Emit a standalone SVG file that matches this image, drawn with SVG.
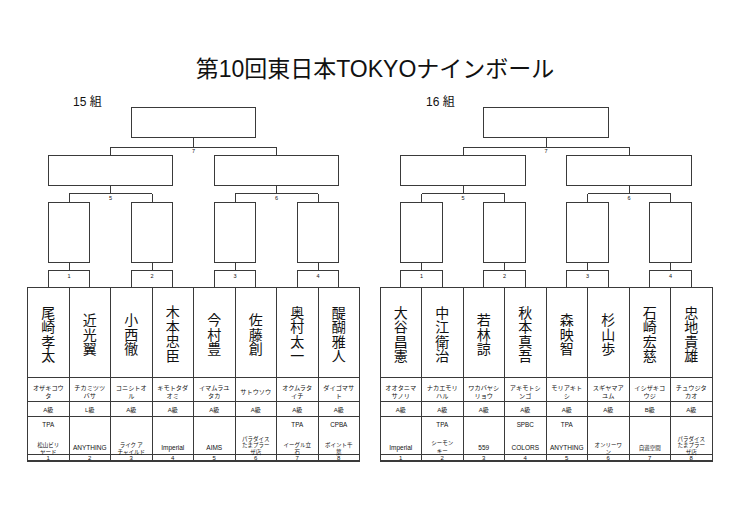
<svg xmlns="http://www.w3.org/2000/svg" width="740" height="523" viewBox="0 0 740 523">
<style>
.ln{fill:none;stroke:#3a3a3a;stroke-width:1;shape-rendering:crispEdges}
.bx{fill:#fff;stroke:#3a3a3a;stroke-width:1;shape-rendering:crispEdges}
.tb{fill:none;stroke:#3a3a3a;stroke-width:1;shape-rendering:crispEdges}
.bt{stroke-width:1.5}
text{font-family:"Liberation Sans","Noto Sans CJK JP",sans-serif;fill:#111;text-anchor:middle}
.ttl{font-size:23px;text-anchor:middle}
.grp{font-size:12px;text-anchor:start}
.lb{font-size:5.5px}
.nm{font-family:"Noto Sans CJK JP",sans-serif;font-size:14px;writing-mode:vertical-rl;letter-spacing:0.5px}
.kn{font-family:"Noto Sans CJK JP",sans-serif;font-size:6.2px}
.cl{font-size:6px}
.af{font-size:6.3px}
.cj{font-family:"Noto Sans CJK JP",sans-serif;font-size:5.5px}
.la{font-size:6.5px}
.no{font-size:6px}
</style>
<rect width="740" height="523" fill="#fff"/>
<text class="ttl" x="375" y="77">第10回東日本TOKYOナインボール</text>

<!-- ===== 15組 ===== -->
<g id="group15">
<text class="grp" x="73" y="105.5">15 組</text>
<g id="g15-final"><rect class="bx" x="131.25" y="107.5" width="124.5" height="30"/></g>
<g id="g15-semi1"><rect class="bx" x="48.25" y="155" width="124.5" height="30.5"/></g>
<g id="g15-semi2"><rect class="bx" x="214.25" y="155" width="124.5" height="30.5"/></g>
<g id="g15-q1"><rect class="bx" x="48.25" y="202.5" width="41.5" height="59.5"/></g>
<g id="g15-q2"><rect class="bx" x="131.25" y="202.5" width="41.5" height="59.5"/></g>
<g id="g15-q3"><rect class="bx" x="214.25" y="202.5" width="41.5" height="59.5"/></g>
<g id="g15-q4"><rect class="bx" x="297.25" y="202.5" width="41.5" height="59.5"/></g>
<g id="g15-connectors">
<path class="ln" d="M193.5 137.5V147M110.5 147H276.5M110.5 147V155M276.5 147V155"/>
<path class="ln" d="M110.5 185.5V193.5M69 193.5H152M69 193.5V202.5M152 193.5V202.5"/>
<path class="ln" d="M276.5 185.5V193.5M235 193.5H318M235 193.5V202.5M318 193.5V202.5"/>
<path class="ln" d="M69 262V270M152 262V270M235 262V270M318 262V270"/>
<path class="ln" d="M48.25 287.5V270H89.75V287.5M131.25 287.5V270H172.75V287.5M214.25 287.5V270H255.75V287.5M297.25 287.5V270H338.75V287.5"/>
<text class="lb" x="193.5" y="153">7</text>
<text class="lb" x="110.5" y="200">5</text>
<text class="lb" x="276.5" y="200">6</text>
<text class="lb" x="69" y="277.5">1</text>
<text class="lb" x="152" y="277.5">2</text>
<text class="lb" x="235" y="277.5">3</text>
<text class="lb" x="318" y="277.5">4</text>
</g>
<g id="g15-table">
<rect class="tb" x="27.5" y="287.5" width="332" height="173.5"/>
<path class="tb" d="M27.5 377.5H359.5M27.5 401.5H359.5M27.5 416.5H359.5M27.5 454.5H359.5"/>
<path class="tb bt" d="M27.5 461H359.5"/>
<path class="tb" d="M69 287.5V461M110.5 287.5V461M152 287.5V461M193.5 287.5V461M235 287.5V461M276.5 287.5V461M318 287.5V461"/>
</g>
<g id="g15-p1">
<text class="nm" x="48.25" y="334.5">尾崎孝太</text>
<text class="kn"><tspan x="48.25" y="390">オザキコウ</tspan><tspan x="48.25" y="397.5">タ</tspan></text>
<text class="cl" x="48.25" y="412.2">A級</text>
<text class="af" x="48.25" y="427.3">TPA</text>
<text class="cj"><tspan x="48.25" y="447">松山ビリ</tspan><tspan x="48.25" y="453.8">ヤード</tspan></text>
<text class="no" x="48.25" y="460">1</text>
</g>
<g id="g15-p2">
<text class="nm" x="89.75" y="334.5">近光翼</text>
<text class="kn"><tspan x="89.75" y="390">チカミツツ</tspan><tspan x="89.75" y="397.5">バサ</tspan></text>
<text class="cl" x="89.75" y="412.2">L級</text>
<text class="la" x="89.75" y="449.5">ANYTHING</text>
<text class="no" x="89.75" y="460">2</text>
</g>
<g id="g15-p3">
<text class="nm" x="131.25" y="334.5">小西徹</text>
<text class="kn"><tspan x="131.25" y="390">コニシトオ</tspan><tspan x="131.25" y="397.5">ル</tspan></text>
<text class="cl" x="131.25" y="412.2">A級</text>
<text class="cj"><tspan x="131.25" y="447">ライク ア</tspan><tspan x="131.25" y="453.8">チャイルド</tspan></text>
<text class="no" x="131.25" y="460">3</text>
</g>
<g id="g15-p4">
<text class="nm" x="172.75" y="334">木本忠臣</text>
<text class="kn"><tspan x="172.75" y="390">キモトタダ</tspan><tspan x="172.75" y="397.5">オミ</tspan></text>
<text class="cl" x="172.75" y="412.2">A級</text>
<text class="la" x="172.75" y="449.5">Imperial</text>
<text class="no" x="172.75" y="460">4</text>
</g>
<g id="g15-p5">
<text class="nm" x="214.25" y="334.5">今村豊</text>
<text class="kn"><tspan x="214.25" y="390">イマムラユ</tspan><tspan x="214.25" y="397.5">タカ</tspan></text>
<text class="cl" x="214.25" y="412.2">A級</text>
<text class="la" x="214.25" y="449.5">AIMS</text>
<text class="no" x="214.25" y="460">5</text>
</g>
<g id="g15-p6">
<text class="nm" x="255.75" y="334.5">佐藤創</text>
<text class="kn" x="255.75" y="394">サトウソウ</text>
<text class="cl" x="255.75" y="412.2">A級</text>
<text class="cj"><tspan x="255.75" y="440.5">パラダイス</tspan><tspan x="255.75" y="447.3">たまプラー</tspan><tspan x="255.75" y="454.1">ザ店</tspan></text>
<text class="no" x="255.75" y="460">6</text>
</g>
<g id="g15-p7">
<text class="nm" x="297.25" y="334.5">奥村太一</text>
<text class="kn"><tspan x="297.25" y="390">オクムラタ</tspan><tspan x="297.25" y="397.5">イチ</tspan></text>
<text class="cl" x="297.25" y="412.2">A級</text>
<text class="af" x="297.25" y="427.3">TPA</text>
<text class="cj"><tspan x="297.25" y="447">イーグル立</tspan><tspan x="297.25" y="453.8">石</tspan></text>
<text class="no" x="297.25" y="460">7</text>
</g>
<g id="g15-p8">
<text class="nm" x="338.75" y="334.5">醍醐雅人</text>
<text class="kn"><tspan x="338.75" y="390">ダイゴマサ</tspan><tspan x="338.75" y="397.5">ト</tspan></text>
<text class="cl" x="338.75" y="412.2">A級</text>
<text class="af" x="338.75" y="427.3">CPBA</text>
<text class="cj"><tspan x="338.75" y="447">ポイント千</tspan><tspan x="338.75" y="453.8">葉</tspan></text>
<text class="no" x="338.75" y="460">8</text>
</g>
</g>

<!-- ===== 16組 ===== -->
<g id="group16">
<text class="grp" x="426" y="105.5">16 組</text>
<g id="g16-final"><rect class="bx" x="483.75" y="107.5" width="124.5" height="30"/></g>
<g id="g16-semi1"><rect class="bx" x="400.75" y="155" width="124.5" height="30.5"/></g>
<g id="g16-semi2"><rect class="bx" x="566.75" y="155" width="124.5" height="30.5"/></g>
<g id="g16-q1"><rect class="bx" x="400.75" y="202.5" width="41.5" height="59.5"/></g>
<g id="g16-q2"><rect class="bx" x="483.75" y="202.5" width="41.5" height="59.5"/></g>
<g id="g16-q3"><rect class="bx" x="566.75" y="202.5" width="41.5" height="59.5"/></g>
<g id="g16-q4"><rect class="bx" x="649.75" y="202.5" width="41.5" height="59.5"/></g>
<g id="g16-connectors">
<path class="ln" d="M546 137.5V147M463 147H629M463 147V155M629 147V155"/>
<path class="ln" d="M463 185.5V193.5M421.5 193.5H504.5M421.5 193.5V202.5M504.5 193.5V202.5"/>
<path class="ln" d="M629 185.5V193.5M587.5 193.5H670.5M587.5 193.5V202.5M670.5 193.5V202.5"/>
<path class="ln" d="M421.5 262V270M504.5 262V270M587.5 262V270M670.5 262V270"/>
<path class="ln" d="M400.75 287.5V270H442.25V287.5M483.75 287.5V270H525.25V287.5M566.75 287.5V270H608.25V287.5M649.75 287.5V270H691.25V287.5"/>
<text class="lb" x="546" y="153">7</text>
<text class="lb" x="463" y="200">5</text>
<text class="lb" x="629" y="200">6</text>
<text class="lb" x="421.5" y="277.5">1</text>
<text class="lb" x="504.5" y="277.5">2</text>
<text class="lb" x="587.5" y="277.5">3</text>
<text class="lb" x="670.5" y="277.5">4</text>
</g>
<g id="g16-table">
<rect class="tb" x="380" y="287.5" width="332" height="173.5"/>
<path class="tb" d="M380 377.5H712M380 401.5H712M380 416.5H712M380 454.5H712"/>
<path class="tb bt" d="M380 461H712"/>
<path class="tb" d="M421.5 287.5V461M463 287.5V461M504.5 287.5V461M546 287.5V461M587.5 287.5V461M629 287.5V461M670.5 287.5V461"/>
</g>
<g id="g16-p1">
<text class="nm" x="400.75" y="334.5">大谷昌憲</text>
<text class="kn"><tspan x="400.75" y="390">オオタニマ</tspan><tspan x="400.75" y="397.5">サノリ</tspan></text>
<text class="cl" x="400.75" y="412.2">A級</text>
<text class="la" x="400.75" y="449.5">Imperial</text>
<text class="no" x="400.75" y="460">1</text>
</g>
<g id="g16-p2">
<text class="nm" x="442.25" y="334.5">中江衛治</text>
<text class="kn"><tspan x="442.25" y="390">ナカエモリ</tspan><tspan x="442.25" y="397.5">ハル</tspan></text>
<text class="cl" x="442.25" y="412.2">A級</text>
<text class="af" x="442.25" y="427.3">TPA</text>
<text class="cj"><tspan x="442.25" y="444.5">シーモン</tspan><tspan x="442.25" y="453.2">キー</tspan></text>
<text class="no" x="442.25" y="460">2</text>
</g>
<g id="g16-p3">
<text class="nm" x="483.75" y="334.5">若林諒</text>
<text class="kn"><tspan x="483.75" y="390">ワカバヤシ</tspan><tspan x="483.75" y="397.5">リョウ</tspan></text>
<text class="cl" x="483.75" y="412.2">A級</text>
<text class="la" x="483.75" y="449.5">559</text>
<text class="no" x="483.75" y="460">3</text>
</g>
<g id="g16-p4">
<text class="nm" x="525.25" y="334.5">秋本真吾</text>
<text class="kn"><tspan x="525.25" y="390">アキモトシ</tspan><tspan x="525.25" y="397.5">ンゴ</tspan></text>
<text class="cl" x="525.25" y="412.2">A級</text>
<text class="af" x="525.25" y="427.3">SPBC</text>
<text class="la" x="525.25" y="449.5">COLORS</text>
<text class="no" x="525.25" y="460">4</text>
</g>
<g id="g16-p5">
<text class="nm" x="566.75" y="334.5">森映智</text>
<text class="kn"><tspan x="566.75" y="390">モリアキト</tspan><tspan x="566.75" y="397.5">シ</tspan></text>
<text class="cl" x="566.75" y="412.2">A級</text>
<text class="af" x="566.75" y="427.3">TPA</text>
<text class="la" x="566.75" y="449.5">ANYTHING</text>
<text class="no" x="566.75" y="460">5</text>
</g>
<g id="g16-p6">
<text class="nm" x="608.25" y="334.5">杉山歩</text>
<text class="kn"><tspan x="608.25" y="390">スギヤマア</tspan><tspan x="608.25" y="397.5">ユム</tspan></text>
<text class="cl" x="608.25" y="412.2">A級</text>
<text class="cj"><tspan x="608.25" y="447">オンリーワ</tspan><tspan x="608.25" y="453.8">ン</tspan></text>
<text class="no" x="608.25" y="460">6</text>
</g>
<g id="g16-p7">
<text class="nm" x="649.75" y="334.5">石崎宏慈</text>
<text class="kn"><tspan x="649.75" y="390">イシザキコ</tspan><tspan x="649.75" y="397.5">ウジ</tspan></text>
<text class="cl" x="649.75" y="412.2">B級</text>
<text class="cj" x="649.75" y="449.5">自遊空間</text>
<text class="no" x="649.75" y="460">7</text>
</g>
<g id="g16-p8">
<text class="nm" x="691.25" y="334.5">忠地貴雄</text>
<text class="kn"><tspan x="691.25" y="390">チュウジタ</tspan><tspan x="691.25" y="397.5">カオ</tspan></text>
<text class="cl" x="691.25" y="412.2">A級</text>
<text class="cj"><tspan x="691.25" y="440.5">パラダイス</tspan><tspan x="691.25" y="447.3">たまプラー</tspan><tspan x="691.25" y="454.1">ザ店</tspan></text>
<text class="no" x="691.25" y="460">8</text>
</g>
</g>
</svg>
